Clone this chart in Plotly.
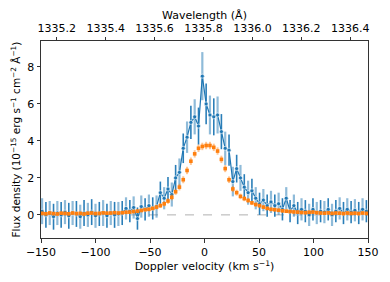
import plotly.graph_objects as go

velocity = [-149, -145.5, -142, -138.5, -135, -131.5, -128, -124.5, -121, -117.5,
            -114, -110.5, -107, -103.5, -100, -96.5, -93, -89.5, -86, -82.5,
            -79, -75.5, -72, -68.5, -65, -61.5, -58, -54.5, -51, -47.5,
            -44, -40.5, -37, -33.5, -30, -26.5, -23, -19.5, -16, -12.5,
            -9, -5.5, -2, 1.5, 5, 8.5, 12, 15.5, 19, 22.5,
            26, 29.5, 33, 36.5, 40, 43.5, 47, 50.5, 54, 57.5,
            61, 64.5, 68, 71.5, 75, 78.5, 82, 85.5, 89, 92.5,
            96, 99.5, 103, 106.5, 110, 113.5, 117, 120.5, 124, 127.5,
            131, 134.5, 138, 141.5, 145, 148.5]

flux_blue = [0.2, 0.0, 0.1, -0.1, 0.1, 0.0, 0.15, -0.05, 0.1, 0.05,
             -0.1, 0.1, 0.0, 0.15, -0.05, 0.05, 0.1, -0.05, 0.1, 0.0,
             0.05, 0.1, 0.35, 0.2, 0.4, -0.2, 0.45, 0.3, 0.5, 0.35,
             0.45, 1.2, 0.9, 1.4, 1.1, 2.0, 2.3, 3.6, 4.2, 5.0,
             5.3, 4.8, 7.5, 6.0, 5.4, 5.3, 5.4, 4.5, 3.6, 3.5,
             1.8, 2.5, 2.0, 1.5, 1.2, 1.3, 0.9, 0.6, 0.8, 0.5,
             0.7, 0.5, 0.6, 0.3, 0.9, 0.2, 0.5, 0.1, 0.3, 0.2,
             0.0, 0.3, 0.1, 0.2, 0.15, 0.3, 0.0, 0.2, 0.35, 0.1,
             0.3, 0.15, 0.25, 0.1, 0.3, 0.2]

err_blue = [0.7, 0.7, 0.65, 0.7, 0.65, 0.7, 0.65, 0.7, 0.65, 0.7,
            0.65, 0.7, 0.65, 0.7, 0.65, 0.65, 0.7, 0.65, 0.65, 0.7,
            0.65, 0.65, 0.6, 0.6, 0.6, 0.6, 0.6, 0.6, 0.6, 0.6,
            0.6, 0.6, 0.6, 0.65, 0.65, 0.7, 0.75, 0.8, 0.85, 0.9,
            0.95, 1.0, 1.3, 1.1, 1.05, 1.0, 1.0, 0.95, 0.9, 0.85,
            0.8, 0.75, 0.7, 0.7, 0.65, 0.65, 0.6, 0.6, 0.6, 0.6,
            0.6, 0.6, 0.6, 0.6, 0.6, 0.6, 0.6, 0.6, 0.6, 0.6,
            0.6, 0.6, 0.6, 0.6, 0.6, 0.6, 0.6, 0.6, 0.6, 0.6,
            0.6, 0.6, 0.6, 0.6, 0.6, 0.6]

flux_orange = [0.08, 0.06, 0.1, 0.07, 0.05, 0.09, 0.08, 0.06, 0.1, 0.07,
               0.08, 0.05, 0.09, 0.1, 0.07, 0.08, 0.11, 0.09, 0.1, 0.12,
               0.1, 0.12, 0.14, 0.15, 0.18, 0.2, 0.24, 0.28, 0.3, 0.35,
               0.42, 0.5, 0.6, 0.75, 0.95, 1.25, 1.5, 1.9, 2.4, 2.9,
               3.3, 3.6, 3.7, 3.75, 3.75, 3.65, 3.45, 3.0, 2.5, 1.9,
               1.4, 1.2, 1.0, 0.88, 0.78, 0.65, 0.56, 0.5, 0.42, 0.35,
               0.3, 0.28, 0.25, 0.22, 0.2, 0.18, 0.16, 0.15, 0.13, 0.12,
               0.14, 0.15, 0.12, 0.1, 0.09, 0.11, 0.08, 0.1, 0.09, 0.07,
               0.1, 0.08, 0.09, 0.07, 0.1, 0.08]

err_orange = [0.1] * 30 + [0.12, 0.13, 0.14, 0.15, 0.16, 0.17, 0.18, 0.19, 0.2, 0.2,
                            0.2, 0.2, 0.2, 0.2, 0.2, 0.2, 0.2, 0.2, 0.19, 0.18,
                            0.17, 0.16, 0.15, 0.14, 0.13, 0.12] + [0.1] * 30

wavelength_ticks = [1335.2, 1335.4, 1335.6, 1335.8, 1336.0, 1336.2, 1336.4]
velocity_ticks = [-150, -100, -50, 0, 50, 100, 150]
flux_ticks = [0, 2, 4, 6, 8]

LAMBDA0 = 1335.804
C_KMS = 299792.458
v_range = [-150, 150]
lam_range = [LAMBDA0 * (1 + v / C_KMS) for v in v_range]

BLUE = "#1f77b4"
ORANGE = "#ff7f0e"
FONT = "DejaVu Sans"

fig = go.Figure()

# zero reference line
fig.add_trace(go.Scatter(x=v_range, y=[0, 0], mode="lines",
                         line=dict(color="#b0b0b0", width=1, dash="dash"),
                         hoverinfo="skip", showlegend=False))

# blue error bars: alternate shades
fig.add_trace(go.Scatter(x=velocity[0::2], y=flux_blue[0::2], mode="markers",
                         marker=dict(size=0.1, color="rgba(0,0,0,0)"),
                         error_y=dict(type="data", array=err_blue[0::2], width=0,
                                      thickness=2.2, color="rgba(31,119,180,0.5)"),
                         showlegend=False, hoverinfo="skip"))
fig.add_trace(go.Scatter(x=velocity[1::2], y=flux_blue[1::2], mode="markers",
                         marker=dict(size=0.1, color="rgba(0,0,0,0)"),
                         error_y=dict(type="data", array=err_blue[1::2], width=0,
                                      thickness=1.6, color="rgba(31,119,180,0.95)"),
                         showlegend=False, hoverinfo="skip"))
# blue line + markers
fig.add_trace(go.Scatter(x=velocity, y=flux_blue, mode="lines+markers",
                         line=dict(color=BLUE, width=1.2),
                         marker=dict(symbol="circle", size=4, color=BLUE,
                                     line=dict(color="white", width=0.6)),
                         showlegend=False))

# orange
fig.add_trace(go.Scatter(x=velocity, y=flux_orange, mode="markers",
                         marker=dict(symbol="square", size=3.6, color=ORANGE),
                         error_y=dict(type="data", array=err_orange, width=0,
                                      thickness=2, color="rgba(255,127,14,0.45)"),
                         showlegend=False))

# invisible trace for top axis
fig.add_trace(go.Scatter(x=lam_range, y=[0, 0], xaxis="x2", mode="markers",
                         marker=dict(size=0.1, color="rgba(0,0,0,0)"),
                         hoverinfo="skip", showlegend=False))

axis_font = dict(family=FONT, size=11, color="black")

fig.update_layout(
    width=390, height=282,
    margin=dict(l=41, r=22, t=41, b=44),
    paper_bgcolor="white", plot_bgcolor="white",
    font=dict(family=FONT, size=11, color="black"),
    xaxis=dict(range=v_range, tickvals=velocity_ticks,
               ticktext=["\u2212150", "\u2212100", "\u221250", "0", "50", "100", "150"],
               ticks="outside", ticklen=3.5, tickwidth=0.8, tickcolor="#333",
               showline=True, linecolor="#333", linewidth=1, mirror=True,
               showgrid=False, zeroline=False, tickfont=axis_font, automargin=False,
               title=dict(text="Doppler velocity (km s<sup>\u22121</sup>)",
                          font=axis_font, standoff=2)),
    xaxis2=dict(range=lam_range, overlaying="x", side="top",
                tickvals=wavelength_ticks,
                ticktext=[f"{w:.1f}" for w in wavelength_ticks],
                ticks="outside", ticklen=3.5, tickwidth=0.8, tickcolor="#333",
                showline=False, showgrid=False, zeroline=False, tickfont=axis_font,
                automargin=False,
                title=dict(text="Wavelength (\u00c5)", font=axis_font, standoff=0)),
    yaxis=dict(range=[-1.25, 9.4], tickvals=flux_ticks,
               ticks="outside", ticklen=3.5, tickwidth=0.8, tickcolor="#333",
               showline=True, linecolor="#333", linewidth=1, mirror=True,
               showgrid=False, zeroline=False, tickfont=axis_font, automargin=False,
               title=dict(text="Flux density (10<sup>\u221215</sup> erg s<sup>\u22121</sup> cm<sup>\u22122</sup> \u00c5<sup>\u22121</sup>)",
                          font=dict(family=FONT, size=10.5, color="black"), standoff=4)),
)

fig.write_html("out.html", config={"displayModeBar": False},
               post_script="document.body.style.margin='0';document.body.style.overflow='hidden';")
